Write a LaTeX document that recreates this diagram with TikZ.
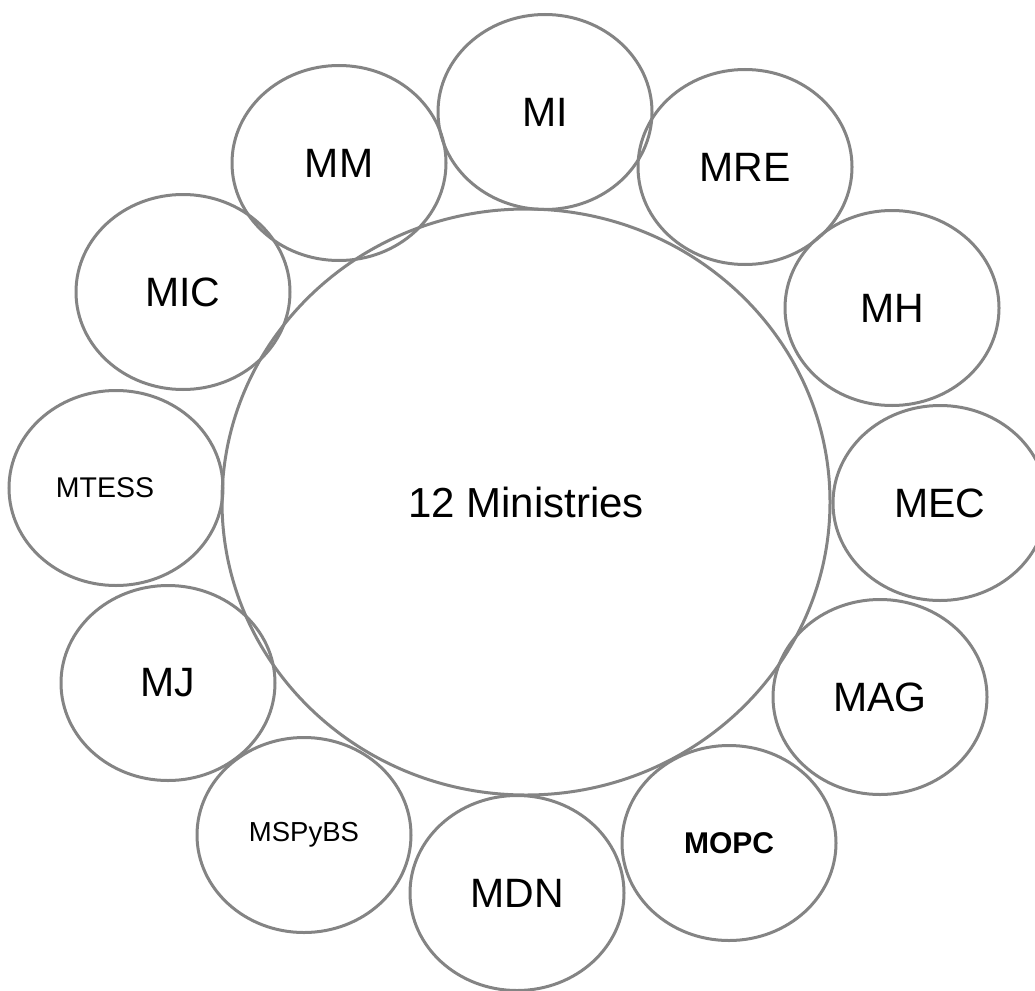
\documentclass[tikz,border=0pt]{standalone}
\usepackage{fontspec}
\setmainfont{Liberation Sans}
\usetikzlibrary{shapes.geometric}
\definecolor{ringgray}{RGB}{132,132,132}
\tikzset{
  ring/.style={ellipse, draw=ringgray, line width=3pt, inner sep=0pt,
    minimum width=214pt, minimum height=195pt, text=black,
    font=\fontsize{41}{41}\selectfont},
  bigring/.style={ellipse, draw=ringgray, line width=3pt, inner sep=0pt,
    minimum width=608pt, minimum height=586pt, text=black,
    font=\fontsize{42}{42}\selectfont},
  smalltxt/.style={font=\fontsize{28.5}{28.5}\selectfont},
  boldtxt/.style={font=\fontsize{30}{30}\selectfont\bfseries}
}
\begin{document}
\begin{tikzpicture}[x=1pt,y=-1pt]
\useasboundingbox (0,0) rectangle (1035,990);
\node[bigring] (center) at (526,502) {12 Ministries};
\node[ring] (MI) at (545,112) {MI};
\node[ring] (MRE) at (745,167) {MRE};
\node[ring] (MH) at (892,308) {MH};
\node[ring] (MEC) at (940,503) {MEC};
\node[ring] (MAG) at (880,697) {MAG};
\node[ring, boldtxt] (MOPC) at (729,843) {MOPC};
\node[ring] (MDN) at (517,893) {MDN};
\node[ring, smalltxt, font=\fontsize{27.5}{27.5}\selectfont] (MSPyBS) at (304,835) {MSPyBS};
\node[ring] (MJ) at (168,683) {MJ};
\node[ring, smalltxt] (MTESS) at (116,488) {\hspace*{-22pt}MTESS};
\node[ring] (MIC) at (183,292) {MIC};
\node[ring] (MM) at (339,163) {MM};
\end{tikzpicture}
\end{document}
